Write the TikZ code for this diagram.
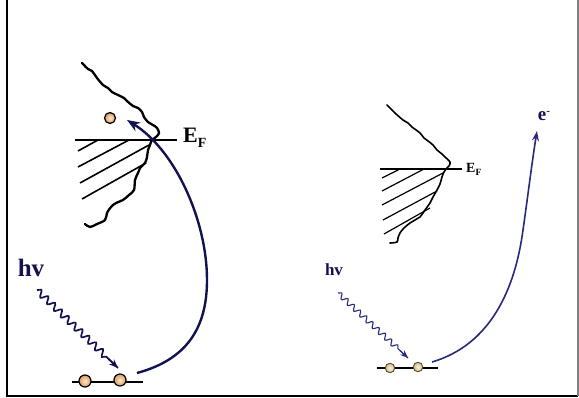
\documentclass[tikz,border=0pt]{standalone}
\usepackage{fontspec}
\setmainfont{Liberation Serif}
\usetikzlibrary{decorations.pathmorphing,arrows.meta,calc}
\definecolor{navyA}{RGB}{18,18,80}
\definecolor{navyB}{RGB}{40,40,125}
\definecolor{ballin}{RGB}{252,236,200}
\definecolor{ballout}{RGB}{222,150,100}
\definecolor{ballinB}{RGB}{250,242,220}
\definecolor{balloutB}{RGB}{215,185,140}
\tikzset{
  dos/.style={line width=2.3pt, line join=round, line cap=round},
  dosB/.style={line width=1.6pt, line join=round, line cap=round},
  hatch/.style={line width=1.6pt},
  hatchB/.style={line width=1.2pt},
  fermi/.style={line width=1.8pt},
  fermiB/.style={line width=1.4pt},
  electron/.style={circle, draw=black, line width=1.2pt, inner sep=0pt, minimum size=12pt, inner color=ballin, outer color=ballout},
  electronB/.style={circle, draw={rgb,255:red,80;green,80;blue,50}, line width=0.9pt, inner sep=0pt, minimum size=9.5pt, inner color=ballinB, outer color=balloutB},
  photon/.style={navyA, line width=1.7pt, decorate, decoration={snake, amplitude=3.2pt, segment length=9.5pt, post length=13pt}},
  photonB/.style={navyB, line width=1.1pt, decorate, decoration={snake, amplitude=2.6pt, segment length=8.5pt, post length=11pt}},
}
\begin{document}
\begin{tikzpicture}[x=1pt,y=-1pt]
\useasboundingbox (0,0) rectangle (579,398);
% frame
\coordinate (fTL) at (7,0);
\coordinate (fBL) at (7,396);
\coordinate (fBR) at (578,396);
\coordinate (fTR) at (578,0);
\draw[line width=2.4pt] (fTL) -- (fBL) -- (fBR);
\draw[gray, line width=1.2pt] (fBR) -- (fTR);

% ===== Left diagram =====
\draw[dos] plot[smooth, tension=0.6] coordinates {(82,63) (88,69) (92,71) (97,78) (103,85) (108,88) (112,92) (118,95) (124,98) (127,101) (133,106) (138,108) (142,112) (144,117) (148,122) (153,125) (157,128) (159,133) (156,137) (152,140) (150,145) (148,150) (147,157) (145,163) (140,168) (138,173) (135,180) (134,190) (129,195) (123,200) (116,203) (111,207) (107,213) (105,220) (97,224) (90,227) (85,224)};
\coordinate (fl1) at (75,140);
\coordinate (fl2) at (177,140);
\draw[fermi] (fl1) -- (fl2);
\node[font=\bfseries\fontsize{22}{22}\selectfont, anchor=west, inner sep=0pt] (EFL) at (183,138) {E\raisebox{-0.45ex}{\fontsize{14}{14}\selectfont F}};
% hatch
\draw[hatch] (78,151) -- (98,140);
\draw[hatch] (78,167) -- (129,140);
\draw[hatch] (80,183) -- (149,145);
\draw[hatch] (82,199) -- (146,163);
% top electron
\node[electron, minimum size=11pt] (eTop) at (110,118) {};
% bottom level
\coordinate (bl1) at (72,382);
\coordinate (bl2) at (143,382);
\draw[line width=2.4pt] (bl1) -- (bl2);
\node[electron] (e1) at (85,381) {};
\node[electron] (e2) at (120,380) {};
% excitation arrow
\coordinate (aStart) at (137,373);
\coordinate (aMid) at (207,280);
\coordinate (aTip) at (127,120);
\draw[navyA, line width=2.4pt, -{Stealth[length=13pt, width=10pt]}] (aStart) .. controls (185,360) and (207,330) .. (aMid) .. controls (207,220) and (175,150) .. (aTip);
% photon
\coordinate (pS) at (37,290);
\coordinate (pT) at (118,368);
\draw[photon] (pS) -- (pT);
\draw[navyA, line width=1.7pt, -{Stealth[length=9pt, width=7pt]}] ($(pT)!13pt!(pS)$) -- (pT);
\node[font=\bfseries\fontsize{25}{25}\selectfont, text=navyA, inner sep=0pt] (hvL) at (31,268) {hv};

% ===== Right diagram =====
\draw[dosB] plot[smooth, tension=0.6] coordinates {(387,105) (392,110) (395,113) (403,120) (408,123) (412,127) (420,133) (424,138) (428,141) (433,145) (437,150) (442,154) (445,157) (450,162) (449,166) (447,168) (444,172) (442,177) (440,184) (437,190) (433,197) (430,203) (425,210) (420,217) (415,220) (410,223) (404,228) (400,233) (398,238) (397,242) (390,243)};
\coordinate (fr1) at (380,169);
\coordinate (fr2) at (462,169);
\draw[fermiB] (fr1) -- (fr2);
\node[font=\bfseries\fontsize{14}{14}\selectfont, anchor=west, inner sep=0pt] (EFR) at (466,169) {E\raisebox{-0.45ex}{\fontsize{9.5}{9.5}\selectfont F}};
% hatch
\draw[hatchB] (382,178) -- (400,169);
\draw[hatchB] (382,191) -- (424,169);
\draw[hatchB] (382,205) -- (443,173);
\draw[hatchB] (383,220) -- (437,191);
\draw[hatchB] (384,234) -- (430,208);
% bottom level
\coordinate (br1) at (377,368);
\coordinate (br2) at (438,368);
\draw[line width=1.5pt] (br1) -- (br2);
\node[electronB] (e3) at (390,368) {};
\node[electronB] (e4) at (418,367) {};
% emission arrow
\coordinate (rStart) at (432,362);
\coordinate (rMid) at (523,230);
\coordinate (rTip) at (537,131);
\draw[navyB, line width=1.6pt, -{Stealth[length=10pt, width=7pt]}] (rStart) .. controls (490,345) and (515,290) .. (rMid) .. controls (528,195) and (532,162) .. (rTip);
\node[font=\bfseries\fontsize{19}{19}\selectfont, text=navyA, inner sep=0pt] (eLab) at (544,116) {e\raisebox{0.7ex}{\fontsize{11}{11}\selectfont -}};
% photon
\coordinate (qS) at (338,293);
\coordinate (qT) at (408,358);
\draw[photonB] (qS) -- (qT);
\draw[navyB, line width=1.1pt, -{Stealth[length=8pt, width=6pt]}] ($(qT)!11pt!(qS)$) -- (qT);
\node[font=\bfseries\fontsize{17}{17}\selectfont, text=navyA, inner sep=0pt] (hvR) at (334,270) {hv};
\end{tikzpicture}
\end{document}
